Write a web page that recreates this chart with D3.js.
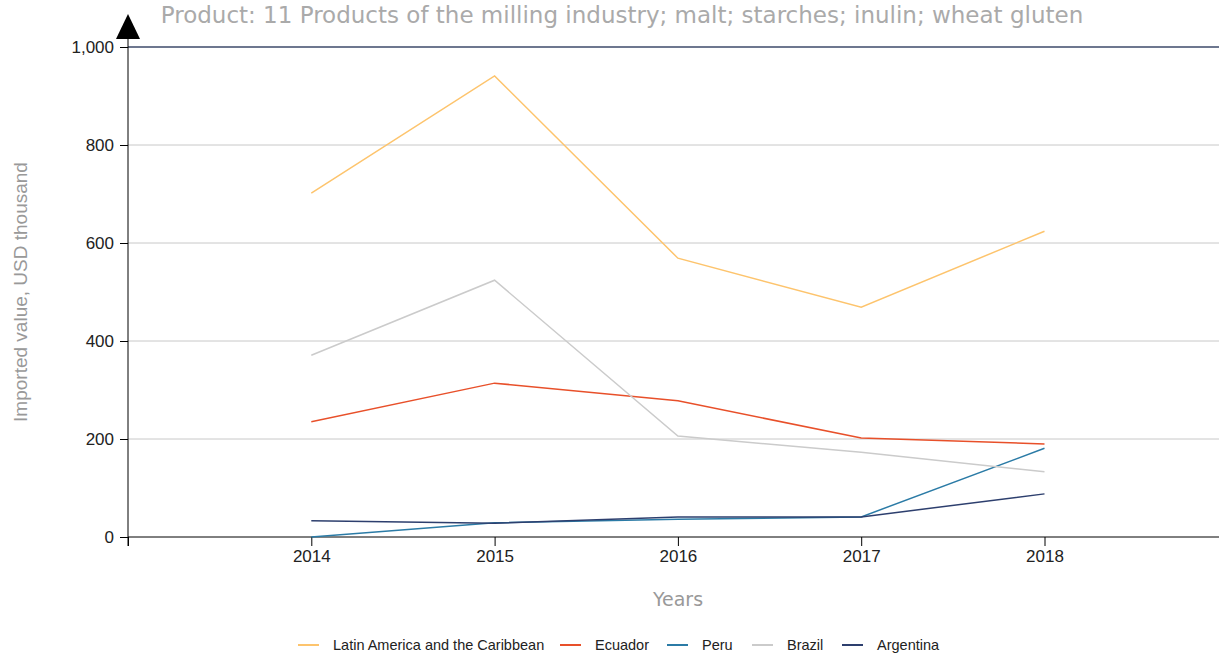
<!DOCTYPE html>
<html>
<head>
<meta charset="utf-8">
<script src="https://cdn.jsdelivr.net/npm/d3@7"></script>
<style>
  body { margin: 0; background: #fff; }
  svg { display: block; }
</style>
</head>
<body>
<div id="chart"></div>
<script>
// data
const years = [2014, 2015, 2016, 2017, 2018];
const seriesNames = ["Latin America and the Caribbean", "Ecuador", "Peru", "Brazil", "Argentina"];
const latinAmerica = [702, 941, 569, 469, 624];
const ecuador = [235, 314, 278, 202, 190];
const peru = [0, 29, 36, 41, 181];
const brazil = [371, 524, 206, 173, 133];
const argentina = [33, 28, 41, 41, 88];
const yTicks = [0, 200, 400, 600, 800, 1000];
const colors = ["#fdc46d", "#e8502a", "#2b7ba6", "#cbcbcb", "#2d3f6e"];

const seriesValues = [latinAmerica, ecuador, peru, brazil, argentina];

let width = 1219, height = 653;
let margin = { top: 47, left: 128, bottom: 116 };

let svg = d3.select("#chart")
    .append("svg")
    .attr("width", width)
    .attr("height", height);

let x = d3.scaleLinear()
    .domain([2013, 2019])
    .range([margin.left, margin.left + 6 * 183.3]);

let y = d3.scaleLinear()
    .domain([0, 1000])
    .range([height - margin.bottom, margin.top]);

// title (sits at the very top of the chart)
svg.append("text")
    .attr("x", 622)
    .attr("y", 23)
    .attr("text-anchor", "middle")
    .style("font-family", "DejaVu Sans")
    .style("font-size", "23px")
    .style("fill", "#aaa")
    .text("Product: 11 Products of the milling industry; malt; starches; inulin; wheat gluten");

// gridlines
svg.append("g")
    .selectAll("line")
    .data(yTicks.filter(d => d > 0))
    .enter()
    .append("line")
    .attr("x1", margin.left)
    .attr("x2", width)
    .attr("y1", d => y(d))
    .attr("y2", d => y(d))
    .style("stroke", d => d === 1000 ? "#3c4a6a" : "#c8c8c8")
    .style("stroke-width", d => d === 1000 ? 1.5 : 1);

// y axis
let yAxis = svg.append("g")
    .attr("transform", `translate(${margin.left}, 0)`)
    .call(d3.axisLeft(y).tickValues(yTicks).tickSize(8).tickPadding(6).tickFormat(d3.format(",")));
yAxis.select(".domain").remove();
yAxis.selectAll("text")
    .style("font-family", "Liberation Sans")
    .style("font-size", "17px")
    .style("fill", "#222");

svg.append("line")
    .attr("x1", margin.left).attr("x2", margin.left)
    .attr("y1", 30).attr("y2", y(0) + 9)
    .style("stroke", "#000");

svg.append("path")
    .attr("d", `M${margin.left - 12},39 L${margin.left},14 L${margin.left + 12},39 Z`)
    .style("fill", "#000");

// x axis
let xAxis = svg.append("g")
    .attr("transform", `translate(0, ${y(0)})`)
    .call(d3.axisBottom(x).tickValues([2013].concat(years)).tickSize(9).tickPadding(4)
        .tickFormat(d => d === 2013 ? "" : d));
xAxis.select(".domain").remove();
xAxis.selectAll("text")
    .style("font-family", "Liberation Sans")
    .style("font-size", "17px")
    .style("fill", "#222");

svg.append("line")
    .attr("x1", margin.left).attr("x2", width)
    .attr("y1", y(0)).attr("y2", y(0))
    .style("stroke", "#000");

// axis titles
svg.append("text")
    .attr("x", 678)
    .attr("y", 606)
    .attr("text-anchor", "middle")
    .style("font-family", "DejaVu Sans")
    .style("font-size", "19px")
    .style("fill", "#999")
    .text("Years");

svg.append("text")
    .attr("transform", `translate(27, ${292}) rotate(-90)`)
    .attr("text-anchor", "middle")
    .style("font-family", "Liberation Sans")
    .style("font-size", "19px")
    .style("fill", "#999")
    .text("Imported value, USD thousand");

// lines
let line = d3.line()
    .x((d, i) => x(years[i]))
    .y(d => y(d));

svg.append("g")
    .selectAll("path")
    .data(seriesValues)
    .enter()
    .append("path")
    .attr("d", d => line(d))
    .style("fill", "none")
    .style("stroke", (d, i) => colors[i])
    .style("stroke-width", 1.5);

// legend
const legendX = [298, 560, 667, 752, 842];
let legend = svg.append("g")
    .selectAll("g")
    .data(seriesNames)
    .enter()
    .append("g")
    .attr("transform", (d, i) => `translate(${legendX[i]}, 645)`);

legend.append("line")
    .attr("x1", 0).attr("x2", 21)
    .style("stroke", (d, i) => colors[i])
    .style("stroke-width", 2);

legend.append("text")
    .attr("x", 35)
    .attr("y", 5)
    .style("font-family", "Liberation Sans")
    .style("font-size", "14.5px")
    .style("fill", "#222")
    .text(d => d);
</script>
</body>
</html>
